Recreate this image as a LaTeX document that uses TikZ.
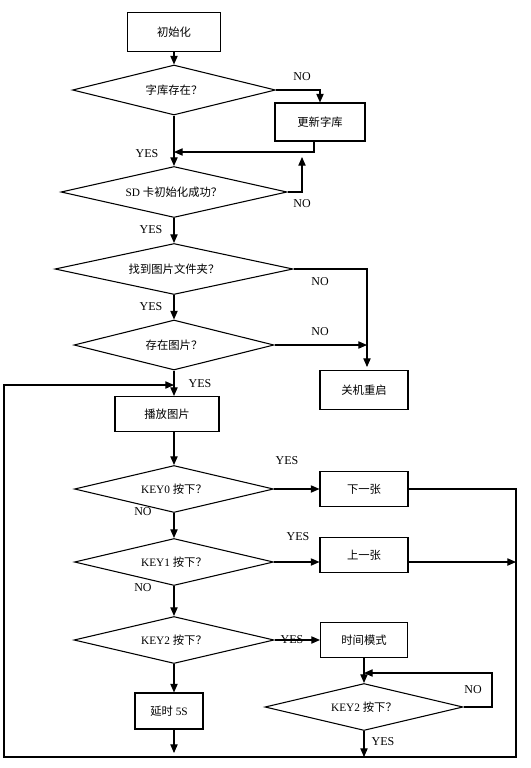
\documentclass[tikz,border=0pt]{standalone}
\usepackage{fontspec}
\setmainfont{Liberation Serif}
\newfontfamily\cjk{Noto Sans CJK SC}
\usetikzlibrary{shapes.geometric}
\usetikzlibrary{arrows.meta}

\begin{document}
\begin{tikzpicture}[x=0.75pt, y=-0.75pt, line width=0.8pt,
        box/.style={draw, rectangle, inner sep=0pt, font=\fontsize{8.5}{10}\selectfont},
        decision/.style={draw, diamond, aspect=4, inner sep=0pt, font=\fontsize{8.5}{10}\selectfont},
        flow/.style={-{Triangle[length=6.5pt,width=5.5pt]}},
        lab/.style={inner sep=0pt, font=\fontsize{9}{10}\selectfont}]
        % Define the unit of the drawing
        \def\u{0.75pt} % one pixel of the reference

        \useasboundingbox (0,0) rectangle (531,768);

        % Draw the process boxes
        \node[box, minimum width=93*\u, minimum height=39*\u] (init) at (174,32) {\cjk 初始化};
        \node[box, minimum width=90*\u, minimum height=38*\u] (update) at (320,122) {\cjk 更新字库};
        \node[box, minimum width=88*\u, minimum height=39*\u] (reboot) at (364,390) {\cjk 关机重启};
        \node[box, minimum width=104*\u, minimum height=35*\u] (play) at (167,414) {\cjk 播放图片};
        \node[box, minimum width=88*\u, minimum height=35*\u] (next) at (364,489) {\cjk 下一张};
        \node[box, minimum width=88*\u, minimum height=35*\u] (prev) at (364,555) {\cjk 上一张};
        \node[box, minimum width=87*\u, minimum height=35*\u] (clock) at (364,640) {\cjk 时间模式};
        \node[box, minimum width=68*\u, minimum height=36*\u] (delay) at (169,711) {{\cjk 延时} 5S};

        % Draw the decisions
        \node[decision, minimum width=203*\u, minimum height=50*\u] (font) at (174,90) {\cjk 字库存在？};
        \node[decision, minimum width=226*\u, minimum height=51*\u] (sd) at (174,192) {SD {\cjk 卡初始化成功？}};
        \node[decision, minimum width=238*\u, minimum height=51*\u] (dir) at (174,269) {\cjk 找到图片文件夹？};
        \node[decision, minimum width=200*\u, minimum height=50*\u] (pic) at (174,345) {\cjk 存在图片？};
        \node[decision, minimum width=199*\u, minimum height=47*\u] (key0) at (174,489) {KEY0 {\cjk 按下？}};
        \node[decision, minimum width=199*\u, minimum height=47*\u] (key1) at (174,562) {KEY1 {\cjk 按下？}};
        \node[decision, minimum width=200*\u, minimum height=47*\u] (key2) at (174,640) {KEY2 {\cjk 按下？}};
        \node[decision, minimum width=198*\u, minimum height=47*\u] (wait) at (364,707) {KEY2 {\cjk 按下？}};

        % Points where the lines meet
        \coordinate (merge) at (174,152);
        \coordinate (retry) at (302,157);
        \coordinate (stop) at (367,367);
        \coordinate (back) at (174,385);
        \coordinate (rb) at (516,757);
        \coordinate (lb) at (4,757);
        \coordinate (loop) at (492,673);
        \coordinate (delayend) at (174,753);

        % Draw the main column
        \draw[flow] (init) -- (font);
        \draw[flow] (font) -- (sd);
        \draw[flow] (sd) -- (dir);
        \draw[flow] (dir) -- (pic);
        \draw[flow] (pic.south) -- (pic.south |- play.north);
        \draw[flow] (play.south -| pic.south) -- (key0);
        \draw[flow] (key0) -- (key1);
        \draw[flow] (key1) -- (key2);
        \draw[flow] (key2.south) -- (key2.south |- delay.north);
        \draw[flow] (delay.south -| key2.south) -- (delayend);

        % Draw the side branches
        \draw[flow] (font.east) -| (update.north);
        \draw[flow] ([xshift=-6*\u]update.south) |- (merge);
        \draw[flow] (sd.east) -| (retry);
        \draw[flow] (dir.east) -| (stop);
        \draw[flow] (pic.east) -- (pic.east -| stop);
        \draw[flow] (key0) -- (next);
        \draw[flow] (next.east) -| (rb) -- (lb) |- (back);
        \draw[flow] (key1.east) -- (key1.east -| prev.west);
        \draw[flow] (key1.east -| prev.east) -- (key1.east -| rb);
        \draw[flow] (key2) -- (clock);
        \draw[flow] (clock) -- (wait);
        \draw[flow] (wait.east) -| (loop) -- (loop -| clock.south);
        \draw[flow] (wait.south) -- (wait.south |- rb);

        % Add the YES and NO labels
        \node[lab] (no1) at (302,77) {NO};
        \node[lab] (yes1) at (147,154) {YES};
        \node[lab] (no2) at (302,204) {NO};
        \node[lab] (yes2) at (151,230) {YES};
        \node[lab] (no3) at (320,282) {NO};
        \node[lab] (yes3) at (151,307) {YES};
        \node[lab] (no4) at (320,332) {NO};
        \node[lab] (yes4) at (200,384) {YES};
        \node[lab] (yes5) at (287,461) {YES};
        \node[lab] (no5) at (143,512) {NO};
        \node[lab] (yes6) at (298,537) {YES};
        \node[lab] (no6) at (143,588) {NO};
        \node[lab] (yes7) at (292,640) {YES};
        \node[lab] (no7) at (473,690) {NO};
        \node[lab] (yes8) at (383,742) {YES};
    \end{tikzpicture}
\end{document}
